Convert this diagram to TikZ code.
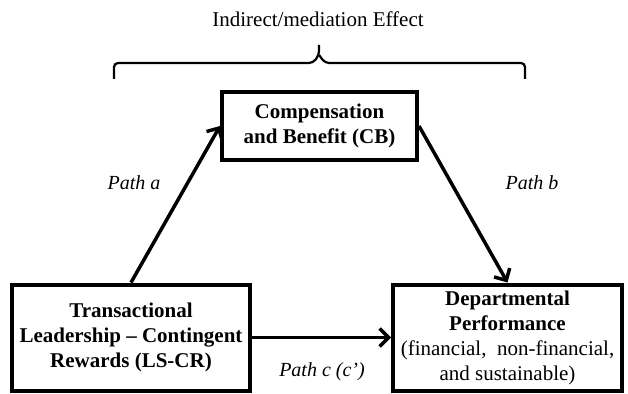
\documentclass[tikz,border=0pt]{standalone}
\usepackage{fontspec}
\setmainfont{Liberation Serif}
\usetikzlibrary{arrows.meta}
\tikzset{
  box/.style={draw, line width=4pt, rectangle, align=center, inner sep=0pt,
    font=\fontsize{21}{25}\selectfont},
  arr/.style={line width=3.5pt, -{Straight Barb[length=9pt,width=18pt,line width=3.5pt]}},
  pathlbl/.style={font=\fontsize{20}{24}\selectfont\itshape, inner sep=0pt},
  brace/.style={line width=2.2pt, rounded corners=4pt}
}
\begin{document}
\begin{tikzpicture}[x=1pt,y=-1pt]
\useasboundingbox[fill=white] (0,0) rectangle (628,393);
\node[box, minimum width=195pt, minimum height=68pt] (cb) at (319.5,126)
  {\bfseries Compensation\\\bfseries and Benefit (CB)};
\node[box, minimum width=238pt, minimum height=106pt] (lscr) at (131,337.5)
  {\bfseries Transactional\\\bfseries Leadership -- Contingent\\\bfseries Rewards (LS-CR)};
\node[box, minimum width=229pt, minimum height=106pt] (dp) at (507.5,337.5)
  {\bfseries Departmental\\\bfseries Performance\\(financial,\ \ non-financial,\\and sustainable)};
\draw[arr] (lscr.north) -- (cb.west);
\draw[arr] (cb.east) -- (dp.north);
\draw[arr] (lscr.east) -- (dp.west);
\node[pathlbl] (pa) at (134,183) {Path a};
\node[pathlbl] (pb) at (532,183) {Path b};
\node[pathlbl] (pc) at (322,372) {Path c (c’)};
\node[font=\fontsize{21}{25}\selectfont, inner sep=0pt] (title) at (318,19) {Indirect/mediation Effect};
\coordinate (bl) at (114,79);
\coordinate (br) at (525,79);
\coordinate (bt) at (319,45);
\draw[brace] (bl) -- (114,63) -- (313,63) -- (319,55) -- (bt);
\draw[brace] (br) -- (525,63) -- (325,63) -- (319,55);
\end{tikzpicture}
\end{document}
